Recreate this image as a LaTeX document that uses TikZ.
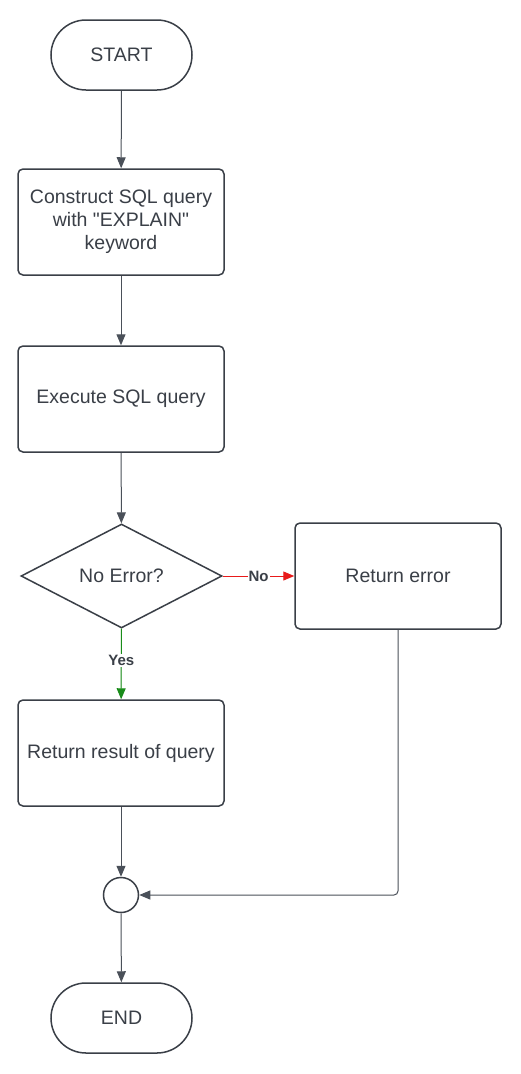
\documentclass[tikz,border=0pt]{standalone}
\usepackage{fontspec}
\setmainfont{Liberation Sans}
\usetikzlibrary{shapes.geometric,arrows.meta}
\definecolor{ink}{HTML}{3A3F47}
\definecolor{wire}{HTML}{4A5059}
\definecolor{nored}{HTML}{E81A1A}
\definecolor{yesgreen}{HTML}{1A8C1A}
\begin{document}
\begin{tikzpicture}[x=1pt,y=-1pt,
  base/.style={draw=ink,line width=1.5pt,text=ink,font=\fontsize{19.5}{23}\selectfont,align=center,inner sep=0pt},
  term/.style={base,rectangle,rounded corners=35pt,minimum width=141pt,minimum height=70pt},
  procbox/.style={base,rectangle,rounded corners=5pt,minimum width=206pt,minimum height=106pt},
  decide/.style={base,diamond,minimum width=201pt,minimum height=104pt},
  joint/.style={base,circle,minimum size=35pt},
  conn/.style={draw=wire,line width=1pt,-{Triangle[length=11pt,width=9pt]}},
  lbl/.style={font=\bfseries\fontsize{15}{17}\selectfont,fill=white,inner sep=1pt,text=ink}
]
\useasboundingbox (0,0) rectangle (520,1074);
\fill[white] (0,0) rectangle (520,1074);
\node[term] (start) at (121.5,55) {START};
\node[procbox] (b1) at (121,222) {Construct SQL query\\with \textquotedbl EXPLAIN\textquotedbl\\keyword};
\node[procbox] (b2) at (121,399) {Execute SQL query};
\node[decide] (d) at (121.5,576) {No Error?};
\node[procbox] (err) at (398,576) {Return error};
\node[procbox] (res) at (121,753) {Return result of query};
\node[joint] (j) at (121,895) {};
\node[term] (end) at (121.5,1018) {END};

\draw[conn] (start) -- (b1);
\draw[conn] (b1) -- (b2);
\draw[conn] (b2) -- (d);
\draw[conn,draw=nored,fill=nored] (d) -- node[lbl]{No} (err);
\draw[conn,draw=yesgreen,fill=yesgreen] (d) -- node[lbl,pos=0.45]{Yes} (res);
\draw[conn] (res) -- (j);
\draw[conn,rounded corners=4pt] (err.south) |- (j.east);
\draw[conn] (j) -- (end);
\end{tikzpicture}
\end{document}
